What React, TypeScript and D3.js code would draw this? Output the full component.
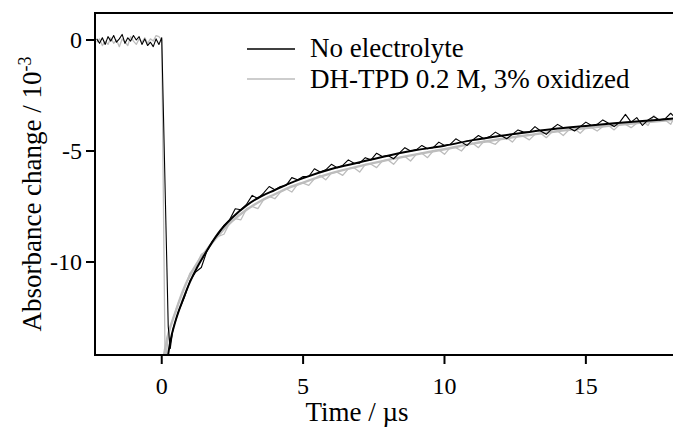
import React from "react";
import * as d3 from "d3";

// ---- data ----
const xTicks = [0, 5, 10, 15];
const yTicks = [0, -5, -10];

// pre-trigger baseline (t = -2.3 .. 0.0, step 0.1)
const preStart = -2.3;
const preStep = 0.1;
const preBlack = [0.05, -0.15, 0.1, -0.2, 0.15, -0.05, 0.2, -0.1, 0.05, 0.25, -0.15, 0.1, -0.05, 0.2, 0.0, 0.15, -0.2, 0.05, -0.25, -0.1, -0.3, 0.05, -0.2, 0.1];
const preGray = [-0.1, 0.05, -0.25, -0.05, -0.2, 0.1, -0.15, 0.0, -0.3, 0.05, -0.1, -0.25, 0.15, -0.05, -0.2, 0.05, -0.1, 0.1, -0.15, 0.05, -0.05, 0.2, 0.15, 0.0];

// drop after the laser pulse
const dropTimesBlack = [0.23, 0.3];
const dropBlack = [-12.9, -13.9];
const dropTimesGray = [0.12, 0.25];
const dropGray = [-14.6, -13.2];

// post-trigger data (t = 0.4 .. 18.4, step 0.2)
const postStart = 0.4;
const postStep = 0.2;
const postBlack = [
  -13.0, -12.2, -11.6, -10.85, -10.45, -10.25, -9.5, -9.05, -8.75, -8.35,
  -8.1, -7.6, -7.65, -7.4, -7.0, -7.15, -6.9, -6.6, -6.75, -6.6,
  -6.55, -6.2, -6.3, -6.15, -6.15, -5.8, -5.95, -5.85, -5.6, -5.75,
  -5.65, -5.4, -5.55, -5.55, -5.3, -5.4, -5.1, -5.25, -5.2, -5.35,
  -5.1, -4.85, -5.0, -4.95, -4.75, -4.9, -4.85, -4.6, -4.75, -4.7,
  -4.45, -4.6, -4.75, -4.5, -4.3, -4.45, -4.35, -4.15, -4.3, -4.45,
  -4.25, -4.05, -4.15, -4.15, -3.9, -4.1, -4.25, -4.0, -3.8, -3.95,
  -3.95, -4.1, -3.9, -3.7, -3.85, -3.8, -3.6, -3.75, -3.9, -3.7,
  -3.35, -3.7, -3.5, -3.85, -3.6, -3.45, -3.6, -3.55, -3.3, -3.55, -3.4,
];
const postGray = [
  -12.55, -11.8, -11.2, -10.5, -10.2, -9.65, -9.5, -9.05, -8.85, -8.75,
  -8.25, -8.05, -8.1, -7.6, -7.5, -7.6, -7.2, -7.05, -7.15, -6.85,
  -6.7, -6.85, -6.5, -6.45, -6.55, -6.25, -6.1, -6.3, -6.0, -5.95,
  -6.1, -5.8, -5.75, -5.95, -5.6, -5.6, -5.75, -5.45, -5.4, -5.6,
  -5.3, -5.25, -5.45, -5.15, -5.1, -5.3, -5.0, -4.95, -5.15, -4.85,
  -4.85, -5.0, -4.7, -4.65, -4.85, -4.55, -4.6, -4.7, -4.45, -4.4,
  -4.6, -4.3, -4.35, -4.5, -4.25, -4.2, -4.4, -4.15, -4.1, -4.3,
  -4.05, -4.0, -4.2, -3.95, -3.95, -4.1, -3.9, -3.85, -4.05, -3.8,
  -3.8, -3.95, -3.75, -3.65, -3.85, -3.4, -3.65, -3.6, -3.8, -3.3, -3.6,
];

// fitted curves
const fitTimesBlack = [0.2, 0.3, 0.5, 0.75, 1, 1.25, 1.5, 2, 2.5, 3, 3.5, 4, 4.5, 5, 6, 7, 8, 9, 10, 11, 12, 13, 14, 15, 16, 17, 18, 18.5];
const fitBlack = [-14.4, -13.6, -12.6, -11.7, -10.9, -10.25, -9.7, -8.7, -8.0, -7.45, -7.05, -6.76, -6.47, -6.22, -5.81, -5.51, -5.21, -4.96, -4.76, -4.51, -4.31, -4.14, -3.99, -3.87, -3.75, -3.65, -3.55, -3.5];
const fitTimesGray = [0.05, 0.2, 0.5, 0.75, 1, 1.25, 1.5, 2, 2.5, 3, 3.5, 4, 4.5, 5, 6, 7, 8, 9, 10, 11, 12, 13, 14, 15, 16, 17, 18, 18.5];
const fitGray = [-14.4, -13.4, -12.2, -11.3, -10.6, -10.05, -9.6, -8.8, -8.15, -7.65, -7.25, -6.95, -6.65, -6.42, -6.0, -5.68, -5.4, -5.15, -4.92, -4.67, -4.46, -4.28, -4.11, -3.97, -3.84, -3.72, -3.61, -3.56];

const legendLabels = ["No electrolyte", "DH-TPD 0.2 M, 3% oxidized"];

const W = 673;
const H = 428;
const M = { left: 95, top: 13, right: 682, bottom: 355 };
const GRAY = "#bdbdbd";
const FONT = "Liberation Serif, Times New Roman, DejaVu Serif, serif";
const ts = { fontFamily: FONT };

type P = [number, number];

function buildTrace(pre: number[], dropT: number[], drop: number[], post: number[]): P[] {
  const pts: P[] = [];
  pre.forEach((v, i) => pts.push([preStart + i * preStep, v]));
  dropT.forEach((t, i) => pts.push([t, drop[i]]));
  post.forEach((v, i) => pts.push([postStart + i * postStep, v]));
  return pts;
}

export default function App() {
  const x = d3.scaleLinear().domain([-2.36, 18.4]).range([M.left, M.right]);
  const y = d3.scaleLinear().domain([-14.19, 1.216]).range([M.bottom, M.top]);

  const raw = d3.line<P>().x((d) => x(d[0])).y((d) => y(d[1]));
  const smooth = d3.line<P>().x((d) => x(d[0])).y((d) => y(d[1])).curve(d3.curveMonotoneX);

  const blackData = buildTrace(preBlack, dropTimesBlack, dropBlack, postBlack);
  const grayData = buildTrace(preGray, dropTimesGray, dropGray, postGray);
  const blackFitPts: P[] = fitTimesBlack.map((t, i) => [t, fitBlack[i]]);
  const grayFitPts: P[] = fitTimesGray.map((t, i) => [t, fitGray[i]]);

  return (
    <svg
      width={W}
      height={H}
      style={{ position: "fixed", left: 0, top: 0, background: "#fff" }}
    >
      <rect x={0} y={0} width={W} height={H} fill="#fff" />
      <defs>
        <clipPath id="plotClip">
          <rect x={M.left} y={M.top} width={M.right - M.left} height={M.bottom - M.top} />
        </clipPath>
      </defs>
      <g clipPath="url(#plotClip)" fill="none" strokeLinejoin="round">
        <path d={raw(grayData) || ""} stroke={GRAY} strokeWidth={1.3} />
        <path d={smooth(grayFitPts) || ""} stroke={GRAY} strokeWidth={2.4} />
        <path d={raw(blackData) || ""} stroke="#000" strokeWidth={1.1} />
        <path d={smooth(blackFitPts) || ""} stroke="#000" strokeWidth={2} />
      </g>

      {/* frame */}
      <rect
        x={M.left}
        y={M.top}
        width={M.right - M.left}
        height={M.bottom - M.top}
        fill="none"
        stroke="#000"
        strokeWidth={2}
      />

      {/* y ticks */}
      {yTicks.map((v) => (
        <g key={"y" + v}>
          <line x1={M.left - 9} x2={M.left} y1={y(v)} y2={y(v)} stroke="#000" strokeWidth={2} />
          <text x={M.left - 13} y={y(v)} dy="0.35em" textAnchor="end" fontSize={24} style={ts}>
            {v}
          </text>
        </g>
      ))}

      {/* x ticks */}
      {xTicks.map((v) => (
        <g key={"x" + v}>
          <line x1={x(v)} x2={x(v)} y1={M.bottom} y2={M.bottom + 9} stroke="#000" strokeWidth={2} />
          <text x={x(v)} y={394} textAnchor="middle" fontSize={24} style={ts}>
            {v}
          </text>
        </g>
      ))}

      {/* axis titles */}
      <text x={357} y={421} textAnchor="middle" fontSize={27} style={ts}>
        Time / µs
      </text>
      <text transform={`translate(41, 194) rotate(-90)`} textAnchor="middle" fontSize={27} style={ts}>
        Absorbance change / 10
        <tspan dy={-10} fontSize={18}>-3</tspan>
      </text>

      {/* legend */}
      <line x1={247} x2={295} y1={49} y2={49} stroke="#000" strokeWidth={1.5} />
      <text x={310} y={57} fontSize={27} style={ts}>{legendLabels[0]}</text>
      <line x1={247} x2={295} y1={79} y2={79} stroke={GRAY} strokeWidth={1.5} />
      <text x={310} y={88} fontSize={27} style={ts}>{legendLabels[1]}</text>
    </svg>
  );
}
